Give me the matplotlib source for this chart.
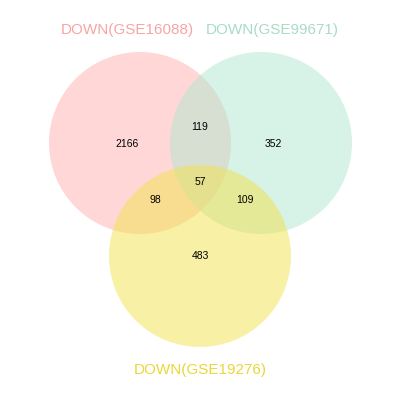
import matplotlib
matplotlib.use("Agg")
import matplotlib.pyplot as plt
from matplotlib.patches import Circle

set_names = ["DOWN(GSE16088)", "DOWN(GSE99671)", "DOWN(GSE19276)"]
region_labels = ["A", "B", "AB", "ABC", "AC", "BC", "C"]
region_counts = [2166, 352, 119, 57, 98, 109, 483]

colors = ["#ffb0b0", "#b0e6cf", "#f2e24a"]
centers = [(140, 143), (261, 143), (200, 256)]
radius = 91
count_pos = {"A": (127, 144), "B": (273, 144), "AB": (200, 127), "ABC": (200, 182),
             "AC": (155, 200), "BC": (245, 200), "C": (200, 256)}
name_pos = [(127, 30), (272, 30), (200, 370)]
name_colors = ["#f7a5a5", "#a9dcc6", "#e8d838"]

fig = plt.figure(figsize=(4, 4), dpi=100)
ax = fig.add_axes([0, 0, 1, 1])
ax.set_xlim(0, 400)
ax.set_ylim(400, 0)
ax.axis("off")

for c, col in zip(centers, colors):
    ax.add_patch(Circle(c, radius, facecolor=col, alpha=0.5, edgecolor="none"))

for lab, n in zip(region_labels, region_counts):
    x, y = count_pos[lab]
    ax.text(x, y, str(n), ha="center", va="center", fontsize=7.5,
            family="Liberation Sans")

for name, pos, col in zip(set_names, name_pos, name_colors):
    ax.text(pos[0], pos[1], name, ha="center", va="center", fontsize=11,
            color=col, family="Liberation Sans")

fig.savefig("out.png", dpi=100)
